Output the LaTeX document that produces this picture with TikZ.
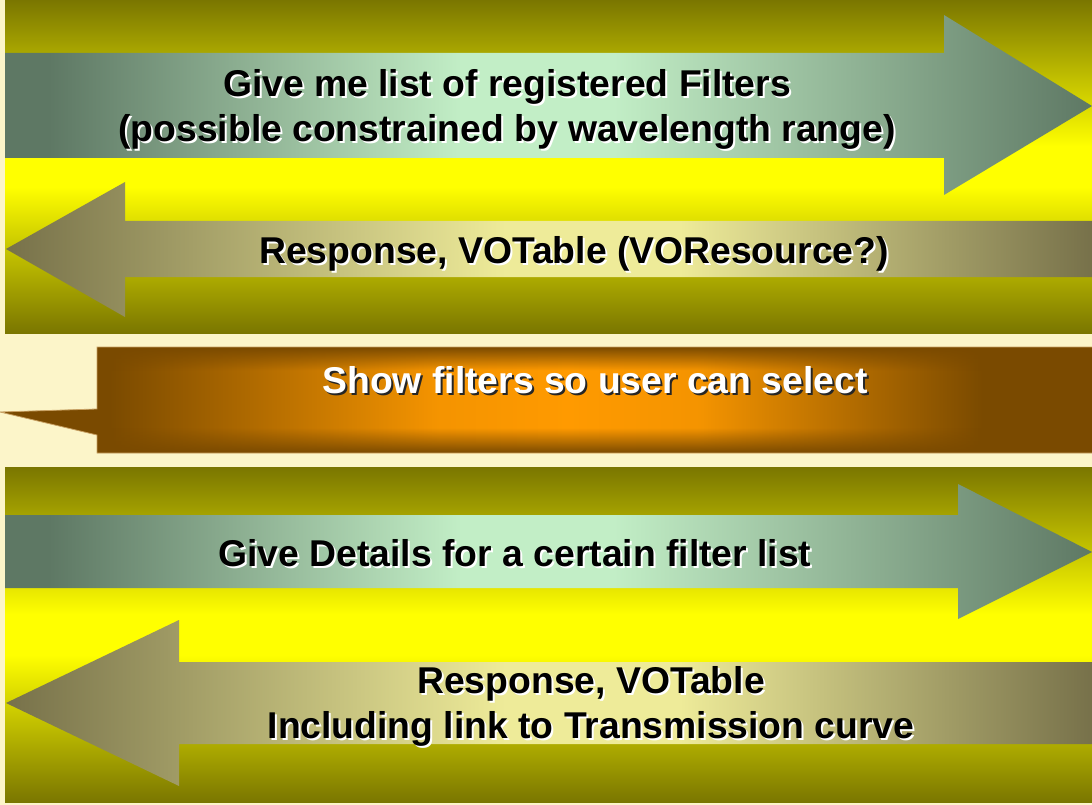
\documentclass[tikz,border=0pt]{standalone}
\usepackage{fontspec}
\setmainfont{Liberation Sans}
\usetikzlibrary{fadings}
\definecolor{cream}{HTML}{FCF5C9}
\definecolor{olv}{HTML}{7A7600}
\definecolor{ylw}{HTML}{FFFF00}
\definecolor{gdark}{HTML}{5E7864}
\definecolor{glight}{HTML}{C2EEC6}
\definecolor{odark}{HTML}{77714A}
\definecolor{olight}{HTML}{EEEB99}
\definecolor{bdark}{HTML}{7A4A00}
\definecolor{borange}{HTML}{FF9A00}
\definecolor{tanline}{HTML}{C8A062}
\pgfdeclareverticalshading{panelshade}{100bp}{color(0bp)=(olv); color(25bp)=(olv); color(47bp)=(ylw); color(53bp)=(ylw); color(75bp)=(olv); color(100bp)=(olv)}
\pgfdeclarehorizontalshading{greenshade}{100bp}{color(0bp)=(gdark); color(27bp)=(gdark); color(46bp)=(glight); color(53bp)=(glight); color(75bp)=(gdark); color(100bp)=(gdark)}
\pgfdeclarehorizontalshading{oliveshade}{100bp}{color(0bp)=(odark); color(25bp)=(odark); color(48bp)=(olight); color(56bp)=(olight); color(75bp)=(odark); color(100bp)=(odark)}
\pgfdeclarehorizontalshading{brownshade}{100bp}{color(0bp)=(bdark); color(30bp)=(bdark); color(45bp)=(borange!92!bdark); color(51bp)=(borange); color(57bp)=(borange!92!bdark); color(70bp)=(bdark); color(100bp)=(bdark)}
\pgfdeclareverticalshading{edgeshade}{100bp}{color(0bp)=(pgftransparent!0); color(25bp)=(pgftransparent!0); color(37bp)=(pgftransparent!100); color(64bp)=(pgftransparent!100); color(75bp)=(pgftransparent!0); color(100bp)=(pgftransparent!0)}
\pgfdeclarefading{edges}{\pgfuseshading{edgeshade}}
\tikzset{
  panel/.style={shading=panelshade},
  rarrow/.style={shading=greenshade},
  larrow/.style={shading=oliveshade},
  callout/.style={shading=brownshade},
  txt/.style={font=\fontsize{37.3}{45}\selectfont\bfseries, inner sep=0pt, align=center, anchor=base, text=black},
  shw/.style={txt, text=white},
  wtxt/.style={txt, text=white},
  dshw/.style={txt, text=black!85},
}
\begin{document}
\begin{tikzpicture}[x=1pt,y=-1pt]
\useasboundingbox (0,0) rectangle (1092,805);
\fill[cream] (0,0) rectangle (1092,805);
% top panel
\path[panel] (5,0) rectangle (1092,333);
\path[rarrow] (5,53) -- (944,53) -- (944,15) -- (1092,106) -- (944,195) -- (944,158) -- (5,158) -- cycle;
\path[larrow] (6,249) -- (125,182) -- (125,221) -- (1092,221) -- (1092,277) -- (125,277) -- (125,317) -- cycle;
% callout
\path[callout] (97,347) -- (1092,347) -- (1092,453) -- (97,453) -- (97,435) -- (0,412) -- (97,409) -- cycle;
\fill[bdark, path fading=edges] (97,347) rectangle (1092,453);
\draw[tanline, line width=0.8pt] (1092,347) -- (97,347) -- (97,409) -- (0,412) -- (97,435) -- (97,453) -- (1092,453);
% bottom panel
\path[panel] (5,467) rectangle (1092,802);
\path[rarrow] (5,515) -- (958,515) -- (958,484) -- (1092,552) -- (958,619) -- (958,588) -- (5,588) -- cycle;
\path[larrow] (6,703) -- (179,620) -- (179,662) -- (1092,662) -- (1092,744) -- (179,744) -- (179,786) -- cycle;
% texts
\node[shw] at (509,144) {Give me list of registered Filters\\(possible constrained by wavelength range)};
\node[txt] (q1) at (507,142) {Give me list of registered Filters\\(possible constrained by wavelength range)};
\node[shw] at (576,265) {Response, VOTable (VOResource?)};
\node[txt] (r1) at (574,263) {Response, VOTable (VOResource?)};
\node[dshw] at (597,395) {Show filters so user can select};
\node[wtxt] (s1) at (595,393) {Show filters so user can select};
\node[shw] at (593,740) {Response, VOTable\\Including link to Transmission curve};
\node[txt] (r2) at (591,738) {Response, VOTable\\Including link to Transmission curve};
\node[shw] at (517,568) {Give Details for a certain filter list};
\node[txt] (q2) at (515,566) {Give Details for a certain filter list};
\end{tikzpicture}
\end{document}
